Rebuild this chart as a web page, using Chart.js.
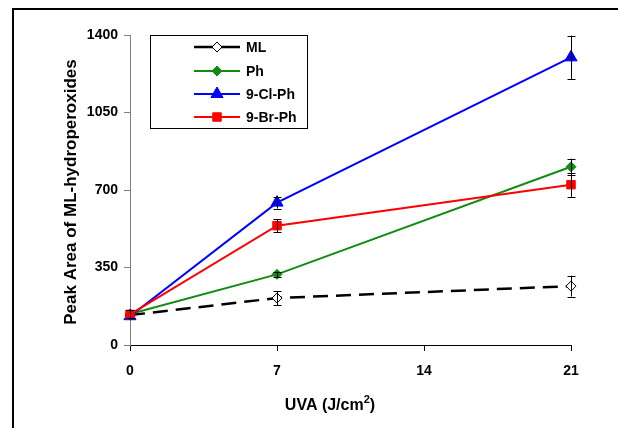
<!DOCTYPE html>
<html>
<head>
<meta charset="utf-8">
<script src="https://cdn.jsdelivr.net/npm/chart.js@4/dist/chart.umd.min.js"></script>
<style>
  html, body { margin: 0; padding: 0; background: #fff; }
  #wrap { position: relative; width: 618px; height: 428px; overflow: hidden; }
  #frame { position: absolute; left: 12px; top: 8px; width: 700px; height: 500px;
           border-top: 2px solid #000; border-left: 2px solid #000; pointer-events: none; }
</style>
</head>
<body>
<div id="wrap">
  <canvas id="grafico" width="618" height="428"></canvas>
  <div id="frame"></div>
</div>
<script>
// UVA dose (J/cm2)
const uva = [0, 7, 21];

// peak area + error bars
const mlVals = [135, 212, 266];
const mlErr  = [0, 32, 47];
const phVals = [140, 319, 805];
const phErr  = [20, 12, 36];
const clVals = [130, 643, 1299];
const clErr  = [0, 27, 98];
const brVals = [138, 539, 724];
const brErr  = [0, 29, 55];

const xTicks = [0, 7, 14, 21];
const yTicks = [0, 350, 700, 1050, 1400];

const fonte = "'Liberation Sans', Arial, sans-serif";

function pontos(vals) {
    return uva.map((x, i) => ({ x: x, y: vals[i] }));
}

const series = [
    { label: "ML", vals: mlVals, err: mlErr, cor: "#000000", fundo: "#ffffff", estilo: "rectRot", raio: 5, tracejado: [15, 8], largura: 2.5, ordem: 3 },
    { label: "Ph", vals: phVals, err: phErr, cor: "#138a13", fundo: "#138a13", estilo: "rectRot", raio: 5, tracejado: [], largura: 2, ordem: 2 },
    { label: "9-Cl-Ph", vals: clVals, err: clErr, cor: "#0000ff", fundo: "#0000ff", estilo: "triangle", raio: 7, tracejado: [], largura: 2, ordem: 1 },
    { label: "9-Br-Ph", vals: brVals, err: brErr, cor: "#ff0000", fundo: "#ff0000", estilo: "rect", raio: 6, tracejado: [], largura: 2, ordem: 0 }
];

/* barras de erro */
const barrasErro = {
    id: "barrasErro",
    afterDatasetsDraw(chart) {
        const ctx = chart.ctx;
        const sx = chart.scales.x, sy = chart.scales.y;
        ctx.save();
        ctx.strokeStyle = "#000";
        ctx.lineWidth = 1;
        series.forEach(s => {
            uva.forEach((x, i) => {
                const e = s.err[i];
                if (!e) return;
                const px = Math.round(sx.getPixelForValue(x)) + 0.5;
                const top = sy.getPixelForValue(s.vals[i] + e);
                const bot = sy.getPixelForValue(s.vals[i] - e);
                ctx.beginPath();
                ctx.moveTo(px, top); ctx.lineTo(px, bot);
                ctx.moveTo(px - 4, Math.round(top) + 0.5); ctx.lineTo(px + 4, Math.round(top) + 0.5);
                ctx.moveTo(px - 4, Math.round(bot) + 0.5); ctx.lineTo(px + 4, Math.round(bot) + 0.5);
                ctx.stroke();
            });
        });
        ctx.restore();
    }
};

/* legenda dentro do gráfico + títulos dos eixos */
const extras = {
    id: "extras",
    afterDraw(chart) {
        const ctx = chart.ctx;
        const area = chart.chartArea;
        ctx.save();

        // legenda
        ctx.fillStyle = "#fff";
        ctx.fillRect(150.5, 35.5, 157, 93);
        ctx.strokeStyle = "#000";
        ctx.lineWidth = 1;
        ctx.strokeRect(150.5, 35.5, 157, 93);
        const linhas = [47, 71, 94, 117];
        ctx.font = "bold 14px " + fonte;
        ctx.textBaseline = "middle";
        series.forEach((s, i) => {
            const y = linhas[i];
            ctx.strokeStyle = s.cor;
            ctx.lineWidth = s.largura;
            ctx.beginPath();
            ctx.moveTo(194, y); ctx.lineTo(240, y);
            ctx.stroke();
            ctx.fillStyle = s.fundo;
            ctx.strokeStyle = s.cor;
            ctx.lineWidth = 1;
            Chart.helpers.drawPoint(ctx, { pointStyle: s.estilo, radius: s.raio, borderWidth: 1, rotation: 0 }, 217, y);
            ctx.fillStyle = "#000";
            ctx.textAlign = "left";
            ctx.fillText(s.label, 246, y + 1);
        });

        // título eixo x
        ctx.fillStyle = "#000";
        ctx.textBaseline = "alphabetic";
        const t1 = "UVA (J/cm", t2 = ")";
        ctx.font = "bold 11px " + fonte;
        const wSup = ctx.measureText("2").width;
        ctx.font = "bold 16px " + fonte;
        const w1 = ctx.measureText(t1).width, w2 = ctx.measureText(t2).width;
        let x0 = 330 - (w1 + wSup + w2) / 2;
        const yb = 410;
        ctx.textAlign = "left";
        ctx.fillText(t1, x0, yb);
        ctx.font = "bold 11px " + fonte;
        ctx.fillText("2", x0 + w1, yb - 7);
        ctx.font = "bold 16px " + fonte;
        ctx.fillText(t2, x0 + w1 + wSup, yb);

        // título eixo y
        ctx.font = "bold 17px " + fonte;
        ctx.translate(71, 192);
        ctx.rotate(-Math.PI / 2);
        ctx.textAlign = "center";
        ctx.textBaseline = "middle";
        ctx.fillText("Peak Area of ML-hydroperoxides", 0, 0);
        ctx.restore();
    }
};

new Chart(document.getElementById("grafico"), {
    type: "line",
    data: {
        datasets: series.map(s => ({
            label: s.label,
            data: pontos(s.vals),
            borderColor: s.cor,
            backgroundColor: s.fundo,
            borderWidth: s.largura,
            borderDash: s.tracejado,
            pointStyle: s.estilo,
            pointRadius: s.raio,
            pointBorderColor: s.cor,
            pointBackgroundColor: s.fundo,
            pointBorderWidth: 1,
            tension: 0,
            order: s.ordem,
            clip: false
        }))
    },
    options: {
        responsive: false,
        animation: false,
        devicePixelRatio: 1,
        layout: { padding: { left: 0, right: 47, top: 35, bottom: 0 } },
        plugins: { legend: { display: false }, tooltip: { enabled: false } },
        scales: {
            x: {
                type: "linear",
                min: 0, max: 21,
                afterFit: s => { s.height = 83; },
                afterBuildTicks: s => { s.ticks = xTicks.map(v => ({ value: v })); },
                border: { color: "#000", width: 1 },
                grid: { drawOnChartArea: false, tickLength: 6, color: "#000" },
                ticks: { color: "#000", padding: 12, callback: v => String(v), font: { family: fonte, size: 14, weight: "bold" } }
            },
            y: {
                min: 0, max: 1400,
                afterFit: s => { s.width = 130; },
                afterBuildTicks: s => { s.ticks = yTicks.map(v => ({ value: v })); },
                border: { color: "#808080", width: 1 },
                grid: { drawOnChartArea: false, tickLength: 6, color: "#808080" },
                ticks: { color: "#000", padding: 6, callback: v => String(v), font: { family: fonte, size: 14, weight: "bold" } }
            }
        }
    },
    plugins: [barrasErro, extras]
});
</script>
</body>
</html>
